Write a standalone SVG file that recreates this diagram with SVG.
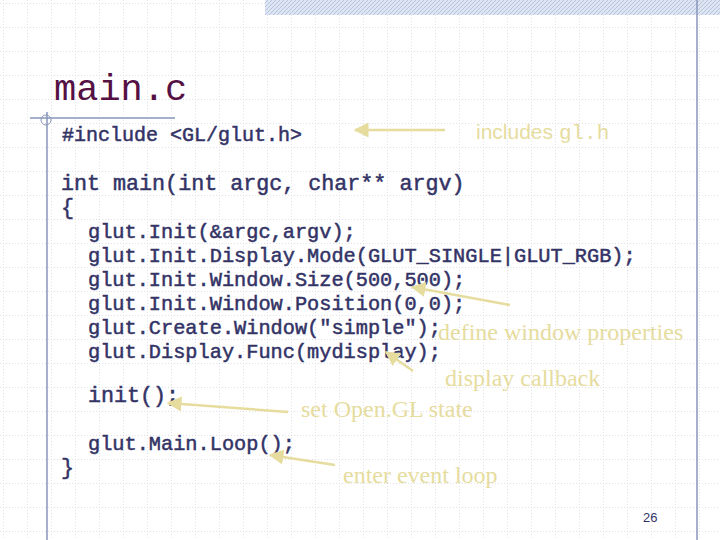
<svg xmlns="http://www.w3.org/2000/svg" width="720" height="540" viewBox="0 0 720 540">
<defs>
<pattern id="grid" width="24" height="24" patternUnits="userSpaceOnUse" x="3" y="3">
<path d="M0 0H24M0 0V24" stroke="#c4c4d0" stroke-width="1" stroke-dasharray="1 2" fill="none"/>
</pattern>
<pattern id="hatch" width="4" height="4" patternUnits="userSpaceOnUse">
<rect width="4" height="4" fill="#dfe6f2"/><path d="M0 4L4 0" stroke="#b4c4e0" stroke-width="1"/>
</pattern>
<marker id="ah" viewBox="0 0 10 10" refX="9" refY="5" markerWidth="6" markerHeight="6" orient="auto-start-reverse">
<path d="M0 0L10 5L0 10z" fill="#e6dc9e"/>
</marker>
</defs>
<style>
.code{font-family:"Liberation Mono",monospace;font-size:21.7px;fill:#333366;stroke:#333366;stroke-width:0.5}
.c2{font-size:20.3px}
.note{font-family:"Liberation Serif",serif;font-size:24px;fill:#e6dc9e}
.arr{stroke:#e6dc9e;stroke-width:2.5;fill:none;marker-end:url(#ah)}
</style>
<rect width="720" height="540" fill="#fff"/>
<rect width="720" height="540" fill="url(#grid)"/>
<rect x="265" y="0" width="455" height="15" fill="url(#hatch)"/>
<line x1="697" y1="0" x2="697" y2="540" stroke="#8896bb" stroke-width="1.5"/>
<line x1="30" y1="118" x2="175" y2="118" stroke="#8896bb" stroke-width="1.5"/>
<line x1="47" y1="112" x2="47" y2="540" stroke="#8896bb" stroke-width="1.5"/>
<circle cx="46" cy="120" r="5" fill="none" stroke="#8896bb" stroke-width="1"/>
<text x="54" y="100" style="font-family:'Liberation Mono',monospace;font-size:37px;fill:#551144">main.c</text>
<g id="code">
<text class="code" x="62" y="141" style="font-size:20px">#include &lt;GL/glut.h&gt;</text>
<text class="code" x="61" y="190">int main(int argc, char** argv)</text>
<text class="code" x="61" y="214">{</text>
<text class="code c2" x="88" y="238">glut.Init(&amp;argc,argv);</text>
<text class="code c2" x="88" y="262">glut.Init.Display.Mode(GLUT_SINGLE|GLUT_RGB);</text>
<text class="code c2" x="88" y="286">glut.Init.Window.Size(500,500);</text>
<text class="code c2" x="88" y="310">glut.Init.Window.Position(0,0);</text>
<text class="code c2" x="88" y="334">glut.Create.Window("simple");</text>
<text class="code c2" x="88" y="358">glut.Display.Func(mydisplay);</text>
<text class="code" x="88" y="402">init();</text>
<text class="code c2" x="88" y="450">glut.Main.Loop();</text>
<text class="code" x="61" y="474">}</text>
</g>
<g id="notes">
<text x="476" y="139" style="font-family:'Liberation Sans',sans-serif;font-size:21px;fill:#e6dc9e">includes <tspan style="font-family:'Liberation Mono',monospace">gl.h</tspan></text>
<text class="note" x="438" y="340">define window properties</text>
<text class="note" x="445" y="386">display callback</text>
<text class="note" x="301" y="417">set Open.GL state</text>
<text class="note" x="343" y="483">enter event loop</text>
</g>
<g id="connectors">
<path class="arr" d="M445 130H355"/>
<path class="arr" d="M510 305L412 287"/>
<path class="arr" d="M413 371L386 352"/>
<path class="arr" d="M288 412L168 403"/>
<path class="arr" d="M335 465L270 455"/>
</g>
<text x="643" y="522" style="font-family:'Liberation Sans',sans-serif;font-size:13px;fill:#333366">26</text>
</svg>
